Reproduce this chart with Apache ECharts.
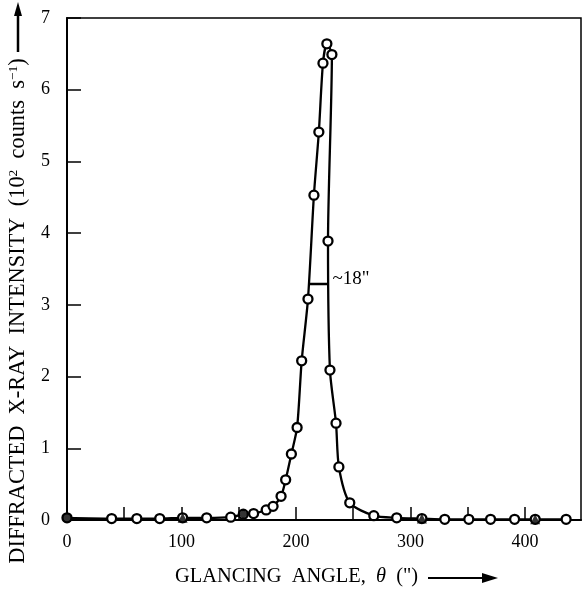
<!DOCTYPE html>
<html>
<head>
<meta charset="utf-8">
<script src="https://cdn.jsdelivr.net/npm/echarts@6/dist/echarts.min.js"></script>
<style>html,body{margin:0;padding:0;background:#fff}#c{width:583px;height:589px}</style>
</head>
<body>
<div id="c"></div>
<script>
// Glancing angle (arc-seconds) and intensity (10^2 counts/s), in drawing order
var angles = [0, 39, 61, 81, 101, 122, 143, 154, 163, 174, 180, 187, 191, 196, 201, 205, 210.5, 215.7, 220, 223.6, 227, 231.4, 228, 229.7, 235, 237.5, 247, 268, 288, 310, 330, 351, 370, 391, 409, 436];
var counts = [0.03, 0.02, 0.02, 0.02, 0.03, 0.03, 0.04, 0.08, 0.09, 0.14, 0.19, 0.33, 0.56, 0.92, 1.29, 2.22, 3.08, 4.53, 5.41, 6.37, 6.64, 6.49, 3.89, 2.09, 1.35, 0.74, 0.24, 0.06, 0.03, 0.02, 0.01, 0.01, 0.01, 0.01, 0.01, 0.01];
// points drawn as filled marks
var filledAngles = [0, 101, 154, 310, 409];
var filledCounts = [0.03, 0.03, 0.08, 0.02, 0.01];
var filledShapes = ['circle', 'triangle', 'diamond', 'triangle', 'triangle'];
// half-width marker
var fwhmAngles = [211.5, 228.5];
var fwhmLevel = 3.29;
var fwhmText = '~18"';
var xTicks = [0, 100, 200, 300, 400];
var yTicks = [0, 1, 2, 3, 4, 5, 6, 7];

var serif = '"Liberation Serif", "DejaVu Serif", serif';
var chart = echarts.init(document.getElementById('c'), null, {renderer: 'canvas'});

var mainData = angles.map(function (a, i) { return [a, counts[i]]; });
var filledData = filledAngles.map(function (a, i) {
  return {value: [a, filledCounts[i]], symbol: filledShapes[i]};
});

chart.setOption({
  animation: false,
  backgroundColor: '#fff',
  grid: {left: 67, right: 2, top: 18, bottom: 69, show: true, borderColor: '#000', borderWidth: 1.5},
  xAxis: {
    type: 'value', min: 0, max: 449, interval: 50,
    axisLine: {show: true, lineStyle: {color: '#000', width: 2}},
    axisTick: {show: true, inside: true, length: 13, lineStyle: {color: '#000', width: 1.5}},
    splitLine: {show: false},
    axisLabel: {
      color: '#000', fontFamily: serif, fontSize: 18, margin: 13, showMaxLabel: false,
      formatter: function (v) { return xTicks.indexOf(v) >= 0 ? String(v) : ''; }
    }
  },
  yAxis: {
    type: 'value', min: 0, max: 7, interval: 1,
    axisLine: {show: true, lineStyle: {color: '#000', width: 2}},
    axisTick: {show: true, inside: true, length: 14, lineStyle: {color: '#000', width: 1.5}},
    splitLine: {show: false},
    axisLabel: {
      color: '#000', fontFamily: serif, fontSize: 18, margin: 17,
      formatter: function (v) { return yTicks.indexOf(v) >= 0 ? String(v) : ''; }
    }
  },
  series: [
    {
      type: 'line', data: mainData, smooth: 0.25,
      symbol: 'circle', symbolSize: 9, showAllSymbol: true,
      lineStyle: {color: '#000', width: 2.3},
      itemStyle: {color: '#fff', borderColor: '#000', borderWidth: 2.3},
      z: 3
    },
    {
      type: 'scatter', data: filledData, symbolSize: 10,
      itemStyle: {color: '#000'}, z: 4
    },
    {
      type: 'line', data: fwhmAngles.map(function (a) { return [a, fwhmLevel]; }),
      symbol: 'none', lineStyle: {color: '#000', width: 2.5},
      endLabel: {show: true, formatter: fwhmText, fontFamily: serif, fontSize: 19, color: '#000', distance: 4, offset: [0, -5]},
      z: 2
    }
  ],
  graphic: [
    {
      type: 'text', x: 18, y: 311, rotation: Math.PI / 2,
      style: {
        text: 'DIFFRACTED  X-RAY  INTENSITY  (10{sup|2}  counts  s{sup|−1})',
        rich: {sup: {fontSize: 13.5, fontFamily: serif, fill: '#000', padding: [0, 0, 10, 0]}},
        fontFamily: serif, fontSize: 22.4, fill: '#000', align: 'center', verticalAlign: 'middle'
      }
    },
    {type: 'line', shape: {x1: 18, y1: 52, x2: 18, y2: 12}, style: {stroke: '#000', lineWidth: 2.5}},
    {type: 'polygon', shape: {points: [[18, 2], [14, 16], [22, 16]]}, style: {fill: '#000'}},
    {
      type: 'text', x: 175, y: 577,
      style: {
        text: 'GLANCING  ANGLE,  {it|θ}  (")',
        rich: {it: {fontStyle: 'italic', fontFamily: serif, fontSize: 20.4, fill: '#000'}},
        fontFamily: serif, fontSize: 20.4, fill: '#000', align: 'left', verticalAlign: 'middle'
      }
    },
    {type: 'line', shape: {x1: 428, y1: 578, x2: 486, y2: 578}, style: {stroke: '#000', lineWidth: 2}},
    {type: 'polygon', shape: {points: [[498, 578], [482, 573], [482, 583]]}, style: {fill: '#000'}}
  ]
});
</script>
</body>
</html>
